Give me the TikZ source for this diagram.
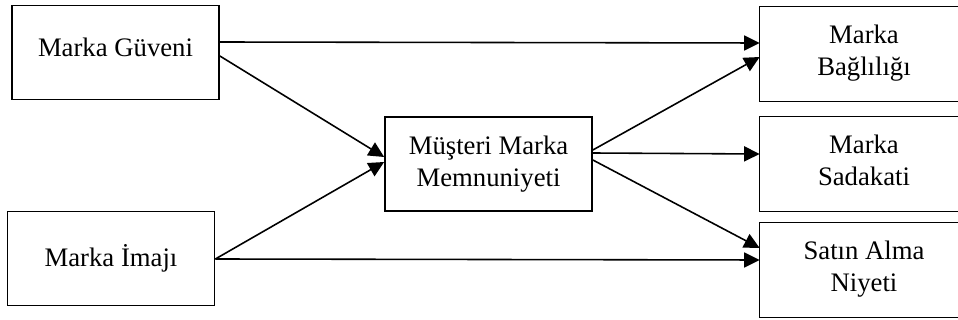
\documentclass[tikz,border=0pt]{standalone}
\usepackage{fontspec}
\setmainfont{Liberation Serif}
\usetikzlibrary{arrows.meta}

\begin{document}
\begin{tikzpicture}[
  x=0.02cm, y=-0.02cm,
  every node/.style={font=\fontsize{15.2}{18.2}\selectfont},
  kutu/.style={draw, line width=1pt, align=center, inner sep=0pt,
    minimum width=4.14cm, minimum height=1.88cm},
  sagkutu/.style={align=center, inner sep=0pt,
    minimum width=4.16cm, minimum height=1.88cm,
    append after command={[line width=1pt]
      ([xshift=1cm]\tikzlastnode.north east) -- (\tikzlastnode.north west)
      -- (\tikzlastnode.south west) -- ([xshift=1cm]\tikzlastnode.south east)}},
  arr/.style={-{Triangle[length=0.31cm, width=0.3cm]}, line width=0.9pt},
]
\useasboundingbox (0,0) rectangle (958,320);

% ── sol sütun
\node[kutu, text depth=0.22cm] at (115.5, 52.5) (guven) {Marka Güveni};
\node[kutu] at (111.0,258.5) (imaj)  {Marka İmajı};

% ── orta
\node[kutu] at (488.5,164.0) (memnun) {Müşteri Marka\\Memnuniyeti};

% ── sağ sütun (sağ kenar resmin dışında kalıyor)
\draw node[sagkutu, text depth=0.14cm] at (864.0, 54.0) (baglilik) {Marka\\Bağlılığı};
\draw node[sagkutu, text depth=0.14cm] at (864.0,164.0) (sadakat)  {Marka\\Sadakati};
\draw node[sagkutu, text depth=0.14cm] at (864.0,270.0) (niyet)    {Satın Alma\\Niyeti};

%% ══════════ OKLAR ══════════

% Marka Güveni → Bağlılık, Memnuniyet
\draw[arr] ([shift={(0,-10.5)}]guven.east) -- ([shift={(0,-11)}]baglilik.west);
\draw[arr] ([shift={(0,3.5)}]guven.east)   -- ([shift={(0,-7)}]memnun.west);

% Marka İmajı → Memnuniyet, Niyet
\draw[arr] ([shift={(0,0.5)}]imaj.east) -- ([shift={(0,-2)}]memnun.west);
\draw[arr] ([shift={(0,0.5)}]imaj.east) -- ([shift={(0,-10)}]niyet.west);

% Memnuniyet → sağ sütun
\draw[arr] ([shift={(0,-14)}]memnun.east) -- ([shift={(0,3)}]baglilik.west);
\draw[arr] ([shift={(0,-11)}]memnun.east) -- ([shift={(0,-10)}]sadakat.west);
\draw[arr] ([shift={(0,-4)}]memnun.east)  -- ([shift={(0,-22)}]niyet.west);

\end{tikzpicture}
\end{document}
